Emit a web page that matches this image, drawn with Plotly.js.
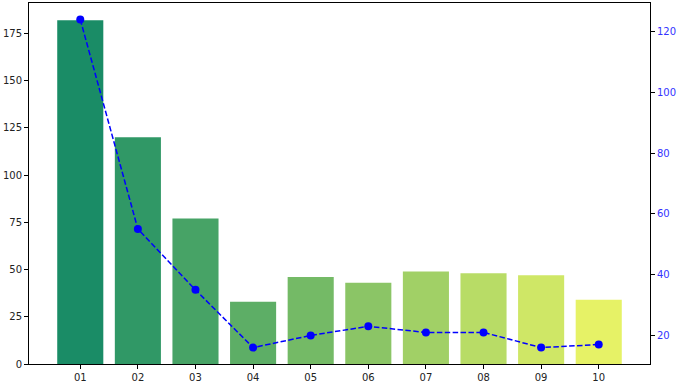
<!DOCTYPE html>
<html>
<head>
<meta charset="utf-8">
<script src="https://cdn.plot.ly/plotly-3.0.1.min.js"></script>
<style>html,body{margin:0;padding:0;background:#fff;}#chart{width:679px;height:389px;}</style>
</head>
<body>
<div id="chart"></div>
<script>
const categories = ['01','02','03','04','05','06','07','08','09','10'];
const barValues = [182, 120, 77, 33, 46, 43, 49, 48, 47, 34];
const lineValues = [124, 55, 35, 16, 20, 23, 21, 21, 16, 17];
const leftTicks = [0, 25, 50, 75, 100, 125, 150, 175];
const rightTicks = [20, 40, 60, 80, 100, 120];
const barColors = ['#1a8c66','#309866','#47a366','#5dae66','#74ba66','#8bc566','#a1d066','#b8dc66','#cfe766','#e6f266'];

const font = {family: 'DejaVu Sans', size: 10, color: '#222'};

const traces = [
  {
    type: 'bar', x: categories, y: barValues, yaxis: 'y',
    marker: {color: barColors, line: {width: 0}},
    width: 0.8, hoverinfo: 'x+y'
  },
  {
    type: 'scatter', mode: 'lines+markers', x: categories, y: lineValues, yaxis: 'y2',
    line: {color: 'blue', width: 1.5, dash: '5.5px,2.4px'},
    marker: {color: 'blue', size: 8}
  }
];

const layout = {
  width: 679, height: 389,
  margin: {l: 29, r: 29, t: 3, b: 25, pad: 0},
  paper_bgcolor: '#fff', plot_bgcolor: '#fff',
  showlegend: false, font: font,
  bargap: 0.2,
  xaxis: {
    type: 'category', range: [-0.89, 9.89],
    showline: true, mirror: true, linecolor: '#000', linewidth: 1,
    ticks: 'outside', ticklen: 4, tickcolor: '#000', tickwidth: 1,
    showgrid: false, zeroline: false, tickfont: font
  },
  yaxis: {
    range: [0, 191.1], tickvals: leftTicks,
    showline: true, mirror: true, linecolor: '#000', linewidth: 1,
    ticks: 'outside', ticklen: 4, tickcolor: '#000', tickwidth: 1,
    showgrid: false, zeroline: false, tickfont: font
  },
  yaxis2: {
    overlaying: 'y', side: 'right', range: [10.6, 129.4], tickvals: rightTicks,
    showline: false,
    ticks: 'outside', ticklen: 4, tickcolor: '#000', tickwidth: 1,
    showgrid: false, zeroline: false,
    tickfont: {family: 'DejaVu Sans', size: 10, color: '#3333ff'}
  }
};

Plotly.newPlot('chart', traces, layout, {displayModeBar: false, staticPlot: true});
</script>
</body>
</html>
